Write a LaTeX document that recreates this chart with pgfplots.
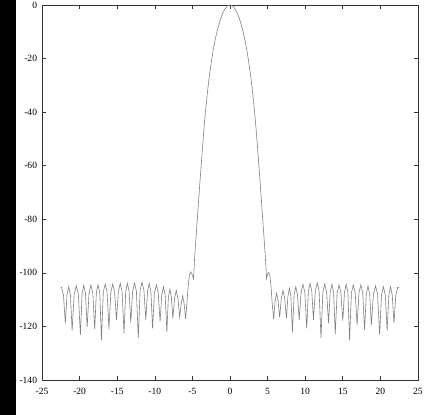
\documentclass[border=0pt]{standalone}
\usepackage{fontspec}
\setmainfont{Liberation Serif}
\usepackage{pgfplots}
\pgfplotsset{compat=1.18}

\begin{document}
\begin{tikzpicture}
\path[use as bounding box] (-42pt,-35pt) rectangle (389.5pt,379.5pt);
\fill[black] (-42pt,-35pt) rectangle (-26pt,379.5pt);
\begin{axis}[
    at={(0,0)}, anchor=south west,
    scale only axis,
    width=375.5pt, height=374.5pt,
    xmin=-25, xmax=25,
    ymin=-140, ymax=0,
    xtick={-25,-20,-15,-10,-5,0,5,10,15,20,25},
    xticklabels={-25,-20,-15,-10,-5,0,5,10,15,20,25},
    ytick={-140,-120,-100,-80,-60,-40,-20,0},
    yticklabels={-140,-120,-100,-80,-60,-40,-20,0},
    tick label style={font=\fontsize{9.5}{10}\selectfont},
    xticklabel style={yshift=-5pt},
    yticklabel style={xshift=-1.5pt},
    major tick length=4pt,
    tick style={black!80, line width=0.6pt},
    axis line style={black!80, line width=0.7pt},
    clip=false,
]

% lobe principal et lobes secondaires
\addplot[black!50, line width=0.6pt] coordinates {
    (-22.5,-105.6) (-22.4,-105.4) (-22.15,-108.4) (-21.9,-118.8)
    (-21.675,-108.2) (-21.45,-105.2) (-21.225,-108.2) (-21.0,-121.6)
    (-20.725,-107.9) (-20.45,-104.9) (-20.175,-107.9) (-19.9,-123.2)
    (-19.675,-107.7) (-19.45,-104.7) (-19.225,-107.7) (-19.0,-120.3)
    (-18.75,-107.6) (-18.5,-104.6) (-18.25,-107.6) (-18.0,-121.1)
    (-17.775,-107.4) (-17.55,-104.4) (-17.325,-107.4) (-17.1,-125.1)
    (-16.85,-107.2) (-16.6,-104.2) (-16.35,-107.2) (-16.1,-121.1)
    (-15.85,-107.2) (-15.6,-104.2) (-15.35,-107.2) (-15.1,-117.6)
    (-14.85,-107.0) (-14.6,-104.0) (-14.35,-107.0) (-14.1,-122.6)
    (-13.875,-106.9) (-13.65,-103.9) (-13.425,-106.9) (-13.2,-118.6)
    (-12.95,-106.8) (-12.7,-103.8) (-12.45,-106.8) (-12.2,-124.4)
    (-11.95,-106.5) (-11.7,-103.5) (-11.45,-106.5) (-11.2,-117.6)
    (-10.975,-107.0) (-10.75,-104.0) (-10.525,-107.0) (-10.3,-120.7)
    (-10.05,-107.5) (-9.8,-104.5) (-9.55,-107.5) (-9.3,-118.2)
    (-9.075,-108.2) (-8.85,-105.2) (-8.625,-108.2) (-8.4,-122.2)
    (-8.2,-109.1) (-8.0,-106.1) (-7.8,-109.1) (-7.6,-117.0)
    (-7.375,-109.6) (-7.15,-106.6) (-6.925,-109.6) (-6.7,-116.6)
    (-6.5,-111.6) (-6.3,-108.6) (-6.1,-111.6) (-5.9,-117.3)
    (-5.7,-110.0) (-5.55,-104.5) (-5.4,-100.8) (-5.25,-99.7) (-5.05,-100.5)
    (-4.85,-102.2) (-4.75,-96.5) (-4.6,-90) (-4.4,-82) (-4.2,-74)
    (-4.0,-66) (-3.8,-58.5) (-3.6,-51) (-3.4,-44) (-3.2,-38)
    (-3.0,-32.5) (-2.75,-26.5) (-2.5,-21.5) (-2.25,-17) (-2.0,-13.3)
    (-1.75,-10.1) (-1.5,-7.4) (-1.25,-5.1) (-1.0,-3.3) (-0.75,-1.85)
    (-0.5,-0.82) (-0.25,-0.2) (0,0) (0.25,-0.2) (0.5,-0.82)
    (0.75,-1.85) (1.0,-3.3) (1.25,-5.1) (1.5,-7.4) (1.75,-10.1)
    (2.0,-13.3) (2.25,-17) (2.5,-21.5) (2.75,-26.5) (3.0,-32.5)
    (3.2,-38) (3.4,-44) (3.6,-51) (3.8,-58.5) (4.0,-66)
    (4.2,-74) (4.4,-82) (4.6,-90) (4.75,-96.5) (4.85,-102.2)
    (5.0,-100.3) (5.15,-99.8) (5.3,-101) (5.45,-105) (5.6,-111) (5.8,-117.3)
    (6.0,-110.6) (6.2,-107.6) (6.4,-110.6) (6.6,-116.6)
    (6.825,-109.6) (7.05,-106.6) (7.275,-109.6) (7.5,-117.0)
    (7.7,-108.8) (7.9,-105.8) (8.1,-108.8) (8.3,-122.2)
    (8.525,-108.2) (8.75,-105.2) (8.975,-108.2) (9.2,-117.6)
    (9.45,-107.3) (9.7,-104.3) (9.95,-107.3) (10.2,-120.7)
    (10.425,-106.9) (10.65,-103.9) (10.875,-106.9) (11.1,-117.6)
    (11.35,-106.7) (11.6,-103.7) (11.85,-106.7) (12.1,-124.4)
    (12.35,-107.2) (12.6,-104.2) (12.85,-107.2) (13.1,-118.8)
    (13.325,-107.3) (13.55,-104.3) (13.775,-107.3) (14.0,-122.8)
    (14.25,-107.5) (14.5,-104.5) (14.75,-107.5) (15.0,-117.8)
    (15.225,-107.3) (15.45,-104.3) (15.675,-107.3) (15.9,-125.1)
    (16.15,-107.5) (16.4,-104.5) (16.65,-107.5) (16.9,-119.5)
    (17.15,-107.5) (17.4,-104.5) (17.65,-107.5) (17.9,-121.3)
    (18.125,-107.9) (18.35,-104.9) (18.575,-107.9) (18.8,-119.5)
    (19.075,-107.9) (19.35,-104.9) (19.625,-107.9) (19.9,-123.2)
    (20.15,-108.2) (20.4,-105.2) (20.65,-108.2) (20.9,-121.6)
    (21.125,-108.2) (21.35,-105.2) (21.575,-108.2) (21.8,-118.8)
    (22.05,-108.4) (22.3,-105.4) (22.5,-105.6)
};

\end{axis}
\end{tikzpicture}
\end{document}
